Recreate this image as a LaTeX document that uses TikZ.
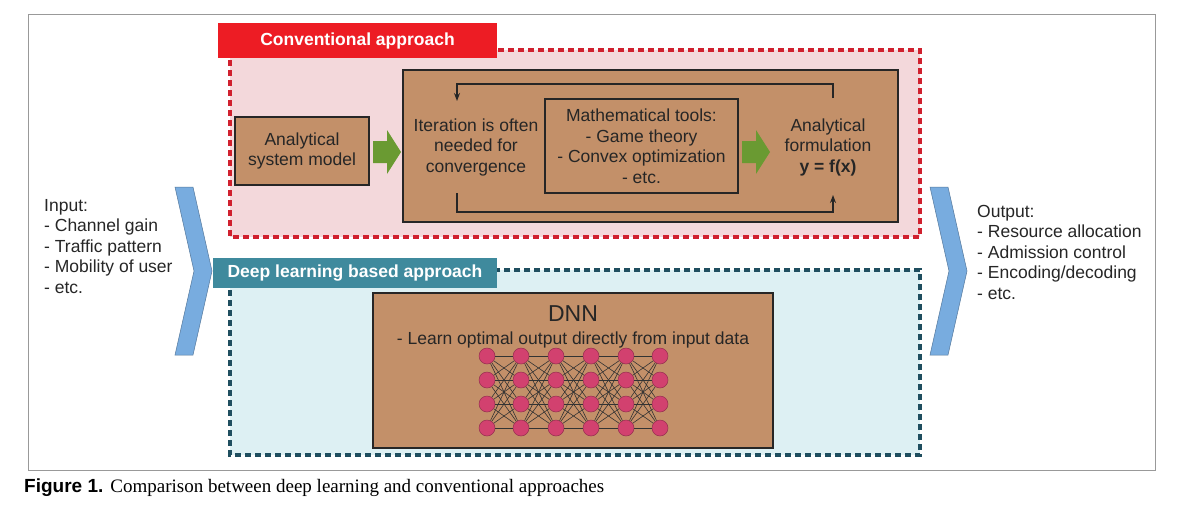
\documentclass[tikz,border=0pt]{standalone}
\usepackage{fontspec}
\setmainfont{Liberation Sans}
\newfontfamily\capserif{Liberation Serif}
\usetikzlibrary{arrows.meta}
\definecolor{brown}{HTML}{C39069}
\definecolor{pinkbg}{HTML}{F3D8DB}
\definecolor{redt}{HTML}{ED1C24}
\definecolor{redd}{HTML}{D0202E}
\definecolor{tealbg}{HTML}{DDF0F3}
\definecolor{tealt}{HTML}{3F8A9D}
\definecolor{teald}{HTML}{1F4E5F}
\definecolor{gr}{HTML}{6A9A32}
\definecolor{chev}{HTML}{78ACDF}
\definecolor{neur}{HTML}{D2416F}
\begin{document}
\begin{tikzpicture}[x=1pt,y=-1pt,
  box/.style={draw=black!85,line width=2pt,fill=brown},
  txt/.style={font=\fontsize{17.5}{20.5}\selectfont,align=center,text=black!85},
  garrow/.style={fill=gr,draw=none},
  neuron/.style={circle,fill=neur,draw=neur!70!black,line width=0.5pt,minimum width=16pt,inner sep=0pt}]
\useasboundingbox (0,0) rectangle (1191,509);
\fill[white] (0,0) rectangle (1191,509);
\draw[black!40,line width=1pt] (28,14) rectangle (1155,470);
% conventional
\draw[redd,fill=pinkbg,line width=4pt,dash pattern=on 6pt off 4pt] (230,50) rectangle (920,237);
\node[fill=redt,minimum width=279pt,minimum height=35pt,inner sep=0pt,text=white,font=\bfseries\fontsize{17.5}{20}\selectfont] (ct) at (357.5,40.5) {Conventional approach};
\node[box,minimum width=134pt,minimum height=68pt,txt] (asm) at (302,151) {Analytical\\system model};
\draw[box] (403,70) rectangle (898,222);
\node[box,minimum width=193pt,minimum height=94pt,txt,inner sep=1pt] (mt) at (641.5,146) {Mathematical tools:\\- Game theory\\- Convex optimization\\- etc.};
\node[txt] (it) at (476,147) {Iteration is often\\needed for\\convergence};
\node[txt] (af) at (828,147) {Analytical\\formulation\\\textbf{y = f(x)}};
\fill[garrow] (373,141) -- (387,141) -- (387,130) -- (401,152) -- (387,174) -- (387,163) -- (373,163) -- cycle;
\fill[garrow] (742,141) -- (756,141) -- (756,130) -- (770,152) -- (756,174) -- (756,163) -- (742,163) -- cycle;
\coordinate (t1) at (833,98);
\coordinate (t2) at (457,101);
\draw[black!85,line width=1.3pt,-{Stealth[length=8pt,width=6pt]}] (t1) |- (457,84) -- (t2);
\coordinate (b1) at (457,193);
\coordinate (b2) at (833,195);
\draw[black!85,line width=1.3pt,-{Stealth[length=8pt,width=6pt]}] (b1) |- (833,212) -- (b2);
% deep learning
\draw[teald,fill=tealbg,line width=4pt,dash pattern=on 6pt off 4pt] (230,270) rectangle (920,455);
\node[fill=tealt,minimum width=284pt,minimum height=30pt,inner sep=0pt,text=white,font=\bfseries\fontsize{17.5}{20}\selectfont] (dt) at (355,273) {Deep learning based approach};
\draw[box] (373,293) rectangle (773,448);
\node[txt,font=\fontsize{23}{26}\selectfont] (dnn) at (573,314) {DNN};
\node[txt] (learn) at (573,340) {- Learn optimal output directly from input data};
\foreach \i/\x in {1/487,2/521,3/556,4/591,5/626,6/660}
  \foreach \j/\y in {1/356,2/380,3/404,4/428}
    \node[neuron] (n\i\j) at (\x,\y) {};
\foreach \i [evaluate=\i as \k using int(\i+1)] in {1,...,5}
  \foreach \j in {1,...,4}
    \foreach \m in {1,...,4}
      \draw[black!80,line width=0.6pt] (n\i\j) -- (n\k\m);
% chevrons
\fill[chev,draw=chev!70!black,line width=0.5pt] (175,187) -- (193,187) -- (212,271) -- (193,355) -- (175,355) -- (194,271) -- cycle;
\fill[chev,draw=chev!70!black,line width=0.5pt] (930,187) -- (948,187) -- (967,271) -- (948,355) -- (930,355) -- (949,271) -- cycle;
\node[txt,align=left,anchor=north west,inner sep=0pt] (in) at (44,199) {Input:\\- Channel gain\\- Traffic pattern\\- Mobility of user\\- etc.};
\node[txt,align=left,anchor=north west,inner sep=0pt] (out) at (977,205) {Output:\\- Resource allocation\\- Admission control\\- Encoding/decoding\\- etc.};
\node[anchor=west,inner sep=0pt,font=\fontsize{19}{22}\selectfont] (cap) at (24,488) {\textbf{Figure 1.} {\capserif Comparison between deep learning and conventional approaches}};
\end{tikzpicture}
\end{document}
